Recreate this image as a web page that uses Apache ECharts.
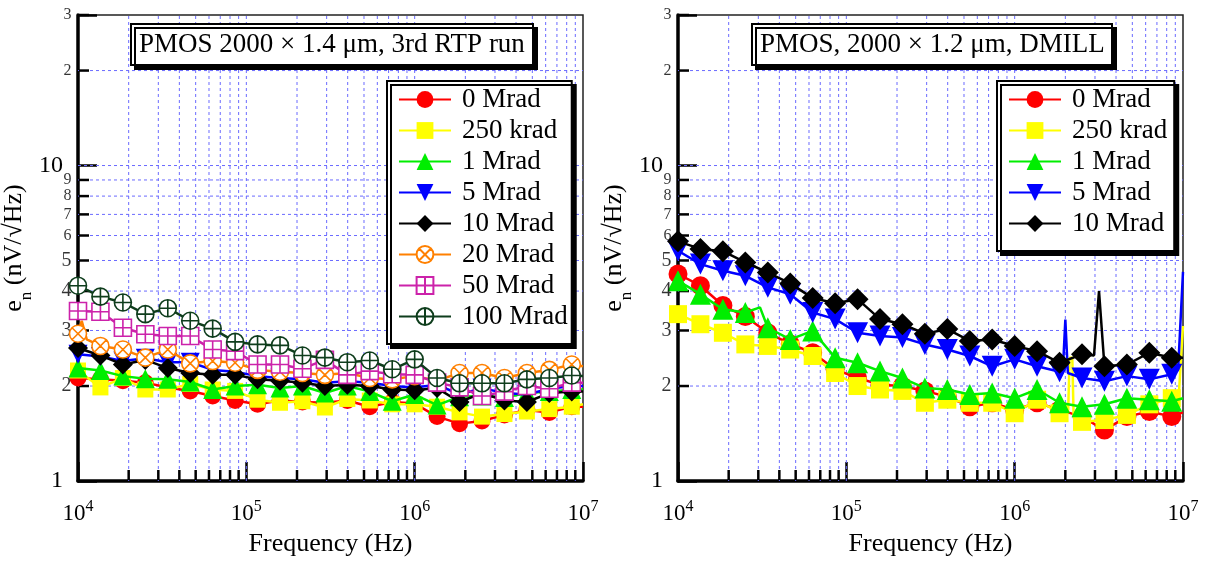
<!DOCTYPE html>
<html><head><meta charset="utf-8">
<script src="https://cdn.jsdelivr.net/npm/echarts@6/dist/echarts.min.js"></script>
<style>html,body{margin:0;padding:0;background:#fff}#c{width:1208px;height:562px}</style>
</head><body><div id="c"></div><script>
// ---------------- DATA ----------------
const FREQ = [10000, 13590, 18480, 25120, 34150, 46420, 63100, 85770, 116600, 158500, 215400, 292900,
  398100, 541200, 735600, 1000000, 1359000, 1848000, 2512000, 3415000, 4642000, 6310000, 8577000];

const NAMES = ['0 Mrad', '250 krad', '1 Mrad', '5 Mrad', '10 Mrad', '20 Mrad', '50 Mrad', '100 Mrad'];

// Left panel: PMOS 2000 x 1.4 um, 3rd RTP run
const L_0M   = [2.12, 2.10, 2.08, 2.05, 1.98, 1.93, 1.86, 1.80, 1.75, 1.80, 1.78, 1.77, 1.80, 1.72, 1.78, 1.76, 1.60, 1.52, 1.55, 1.62, 1.68, 1.65, 1.72];
const L_250K = [2.24, 1.98, 2.12, 1.95, 1.95, 2.03, 1.95, 1.93, 1.81, 1.77, 1.79, 1.71, 1.82, 1.80, 1.75, 1.75, 1.72, 1.65, 1.60, 1.63, 1.66, 1.69, 1.72];
const L_1M   = [2.28, 2.24, 2.15, 2.11, 2.10, 2.06, 1.95, 2.00, 2.02, 1.97, 2.00, 1.90, 2.00, 1.92, 1.79, 1.88, 1.74, 1.85, 1.86, 1.84, 1.90, 1.92, 1.95];
const L_5M   = [2.52, 2.48, 2.40, 2.45, 2.38, 2.38, 2.25, 2.22, 2.15, 2.12, 2.10, 2.05, 2.07, 2.05, 2.00, 1.98, 2.02, 1.88, 1.97, 1.90, 1.88, 1.96, 2.00];
const L_10M  = [2.64, 2.50, 2.34, 2.42, 2.28, 2.20, 2.17, 2.17, 2.10, 2.08, 2.05, 2.00, 2.02, 2.00, 1.95, 1.94, 1.97, 1.78, 1.90, 1.80, 1.78, 1.90, 1.92];
const L_20M  = [2.93, 2.68, 2.61, 2.46, 2.61, 2.36, 2.40, 2.37, 2.25, 2.22, 2.20, 2.17, 2.20, 2.12, 2.10, 2.15, 2.08, 2.20, 2.20, 2.12, 2.20, 2.25, 2.34];
const L_50M  = [3.46, 3.44, 3.06, 2.92, 2.88, 2.88, 2.61, 2.58, 2.34, 2.34, 2.27, 2.42, 2.17, 2.23, 2.18, 2.17, 2.05, 1.98, 1.86, 1.92, 2.00, 1.96, 2.05];
const L_100M = [4.16, 3.84, 3.68, 3.38, 3.53, 3.22, 3.04, 2.76, 2.71, 2.69, 2.50, 2.46, 2.38, 2.41, 2.26, 2.43, 2.12, 2.04, 2.04, 2.04, 2.10, 2.12, 2.16];
// line-only points (no marker)
const L_0M_X   = [[10000000, 1.72]];
const L_250K_X = [[10000000, 1.75]];
const L_1M_X   = [[10000000, 1.95]];
const L_5M_X   = [[10000000, 2.00]];
const L_10M_X  = [[10000000, 1.92]];
const L_20M_X  = [[10520, 3.22], [11270, 2.81], [10000000, 2.31]];
const L_50M_X  = [[10000000, 2.05]];
const L_100M_X = [[10000000, 2.15]];

// Right panel: PMOS, 2000 x 1.2 um, DMILL
const R_0M   = [4.53, 4.16, 3.60, 3.32, 2.95, 2.72, 2.55, 2.26, 2.12, 2.02, 2.00, 1.93, 1.85, 1.72, 1.77, 1.68, 1.77, 1.68, 1.60, 1.45, 1.60, 1.66, 1.60];
const R_250K = [3.38, 3.14, 2.95, 2.71, 2.68, 2.61, 2.49, 2.20, 2.00, 1.95, 1.93, 1.77, 1.81, 1.77, 1.77, 1.64, 1.81, 1.64, 1.54, 1.56, 1.62, 1.75, 1.83];
const R_1M   = [4.31, 3.91, 3.50, 3.42, 3.06, 2.81, 2.99, 2.46, 2.37, 2.23, 2.12, 1.97, 1.95, 1.88, 1.90, 1.83, 1.95, 1.77, 1.72, 1.75, 1.83, 1.81, 1.79];
const R_5M   = [5.37, 4.87, 4.64, 4.47, 4.11, 3.91, 3.42, 3.26, 2.95, 2.88, 2.85, 2.71, 2.61, 2.49, 2.31, 2.43, 2.31, 2.22, 2.12, 2.07, 2.15, 2.10, 2.18];
const R_10M  = [5.75, 5.44, 5.35, 4.93, 4.58, 4.23, 3.80, 3.66, 3.77, 3.26, 3.14, 2.93, 3.03, 2.78, 2.81, 2.68, 2.58, 2.37, 2.52, 2.31, 2.34, 2.55, 2.46];
const R_0M_X   = [[10000000, 1.65]];
const R_250K_X = [[2080000, 1.68], [2120000, 2.46], [2200000, 2.46], [2240000, 1.60], [9400000, 1.80], [10000000, 3.10]];
const R_1M_X   = [[30700, 3.55], [10000000, 1.83]];
const R_5M_X   = [[1930000, 2.20], [2000000, 3.25], [2070000, 2.20], [9350000, 2.25], [10000000, 4.60]];
const R_10M_X  = [[2960000, 2.50], [3170000, 4.00], [10000000, 2.46]];

const X_GRID = [20000, 30000, 40000, 50000, 60000, 70000, 80000, 90000, 100000,
  200000, 300000, 400000, 500000, 600000, 700000, 800000, 900000, 1000000,
  2000000, 3000000, 4000000, 5000000, 6000000, 7000000, 8000000, 9000000];
const X_MAJOR = [100000, 1000000];
const Y_GRID = [2, 3, 4, 5, 6, 7, 8, 9, 10, 20];
const Y_MINOR_LABELS = [[2, '2'], [3, '3'], [4, '4'], [5, '5'], [6, '6'], [7, '7'], [8, '8'], [9, '9'], [20, '2'], [30, '3']];
const X_MIN = 10000, X_MAX = 10000000, Y_MIN = 1, Y_MAX = 30;

const TITLES = ['PMOS 2000 \u00d7 1.4 \u03bcm, 3rd RTP run', 'PMOS, 2000 \u00d7 1.2 \u03bcm, DMILL'];

// ---------------- STYLE ----------------
const FONT = 'Liberation Serif';
const CIRCLE_X = 'path://M10,0A10,10,0,1,1,-10,0A10,10,0,1,1,10,0ZM-7.07,-7.07L7.07,7.07M7.07,-7.07L-7.07,7.07';
const CIRCLE_P = 'path://M10,0A10,10,0,1,1,-10,0A10,10,0,1,1,10,0ZM-10,0L10,0M0,-10L0,10';
const SQUARE_P = 'path://M-10,-10L10,-10L10,10L-10,10ZM-10,0L10,0M0,-10L0,10';
const TRI_DOWN = 'path://M-10,-8.66L10,-8.66L0,8.66Z';
const STY = {
  '0 Mrad':   {c: '#ff0000', s: 'circle', z: 17},
  '250 krad': {c: '#ffff00', s: 'rect', z: 16},
  '1 Mrad':   {c: '#00ee00', s: 'triangle', z: 19},
  '5 Mrad':   {c: '#0000ff', s: TRI_DOWN, z: 19},
  '10 Mrad':  {c: '#000000', s: 'diamond', z: 20},
  '20 Mrad':  {c: '#ff8000', s: CIRCLE_X, z: 17, h: true},
  '50 Mrad':  {c: '#cc22aa', s: SQUARE_P, z: 17, h: true},
  '100 Mrad': {c: '#0e3d1c', s: CIRCLE_P, z: 17, h: true}
};

function lineSeries(idx, name, vals, extra, order) {
  const st = STY[name];
  const pts = FREQ.map((f, i) => ({value: [f, vals[i]]}));
  extra.forEach(p => pts.push({value: p, symbol: 'none'}));
  pts.sort((a, b) => a.value[0] - b.value[0]);
  return {
    type: 'line', name, xAxisIndex: idx, yAxisIndex: idx, data: pts,
    symbol: st.s, symbolSize: st.z + (idx === 1 ? 2 : 0),
    lineStyle: {color: st.c, width: 2.5},
    itemStyle: st.h ? {color: '#fff', borderColor: st.c, borderWidth: 1.6} : {color: st.c, borderWidth: 0},
    emphasis: {disabled: true}, z: 3 + order, silent: true
  };
}

function gridSeries(idx) {
  return [{
    type: 'custom', xAxisIndex: idx, yAxisIndex: idx, z: 1, silent: true,
    data: X_GRID.map(v => [v, Y_MIN]),
    renderItem: (p, api) => {
      const v = api.value(0);
      const b = api.coord([v, Y_MIN]), t = api.coord([v, Y_MAX]);
      const ch = [{type: 'line', shape: {x1: b[0], y1: b[1], x2: t[0], y2: t[1]},
        style: {stroke: '#6b6bff', lineWidth: 1, lineDash: [3, 3]}}];
      if (X_MAJOR.indexOf(v) < 0) ch.push({type: 'line', shape: {x1: b[0], y1: b[1] - 1, x2: b[0], y2: b[1] - 11},
        style: {stroke: '#000', lineWidth: 2.5}});
      return {type: 'group', children: ch};
    }
  }, {
    type: 'custom', xAxisIndex: idx, yAxisIndex: idx, z: 1, silent: true,
    data: Y_GRID.map(v => [X_MIN, v]),
    renderItem: (p, api) => {
      const v = api.value(1);
      const l = api.coord([X_MIN, v]), r = api.coord([X_MAX, v]);
      const ch = [{type: 'line', shape: {x1: l[0], y1: l[1], x2: r[0], y2: r[1]},
        style: {stroke: '#6b6bff', lineWidth: 1, lineDash: [3, 3]}}];
      if (v !== 10) ch.push({type: 'line', shape: {x1: l[0] + 1, y1: l[1], x2: l[0] + 11, y2: l[1]},
        style: {stroke: '#000', lineWidth: 2.5}});
      return {type: 'group', children: ch};
    }
  }, {
    // minor tick labels of the log y axis, placed through the axis scale
    type: 'scatter', xAxisIndex: idx, yAxisIndex: idx, z: 5, silent: true, clip: false,
    symbolSize: 1, itemStyle: {color: 'rgba(0,0,0,0)'},
    data: Y_MINOR_LABELS.map(d => ({
      value: [X_MIN, d[0]],
      label: {show: true, position: 'left', distance: 6, formatter: d[1],
        fontFamily: FONT, color: '#000', fontSize: (d[0] >= 2 && d[0] <= 5) ? 20 : 16}
    }))
  }, {
    type: 'custom', xAxisIndex: idx, yAxisIndex: idx, z: 1, silent: true,
    data: [[X_MIN, Y_MAX]],
    renderItem: (p, api) => {
      const l = api.coord([X_MIN, Y_MAX]);
      return {type: 'line', shape: {x1: l[0] + 1, y1: l[1], x2: l[0] + 11, y2: l[1]}, style: {stroke: '#000', lineWidth: 2.5}};
    }
  }];
}

const isPow10 = v => Math.abs(Math.log10(v) - Math.round(Math.log10(v))) < 1e-6;

function xAxis(idx) {
  return {
    type: 'log', logBase: 10, min: X_MIN, max: X_MAX, gridIndex: idx,
    axisLine: {show: true, onZero: false, lineStyle: {color: '#000', width: 3.5}},
    axisTick: {show: true, inside: true, length: 19, lineStyle: {color: '#000', width: 2.5}},
    axisLabel: {margin: 18, showMinLabel: true, showMaxLabel: true,
      formatter: v => '{b|10}{s|' + Math.round(Math.log10(v)) + '}',
      rich: {b: {fontSize: 23, fontFamily: FONT, color: '#000', lineHeight: 26, verticalAlign: 'bottom'},
             s: {fontSize: 16, fontFamily: FONT, color: '#000', lineHeight: 16, verticalAlign: 'top'}}},
    splitLine: {show: false},
    name: 'Frequency (Hz)', nameLocation: 'middle', nameGap: 50,
    nameTextStyle: {fontFamily: FONT, fontSize: 26, color: '#000'}
  };
}
function yAxis(idx) {
  return {
    type: 'log', logBase: 10, min: Y_MIN, max: Y_MAX, gridIndex: idx,
    axisLine: {show: true, onZero: false, lineStyle: {color: '#000', width: 3.5}},
    axisTick: {show: true, inside: true, length: 19, lineStyle: {color: '#000', width: 2.5}},
    axisLabel: {margin: 15, showMinLabel: true, showMaxLabel: true, fontFamily: FONT, fontSize: 24, color: '#000',
      formatter: v => (isPow10(v) ? String(Math.round(v)) : '')},
    splitLine: {show: false},
    name: 'e{sub|n} (nV/\u221aHz)', nameLocation: 'middle', nameGap: 40,
    nameTextStyle: {fontFamily: FONT, fontSize: 26, color: '#000',
      rich: {sub: {fontFamily: FONT, fontSize: 17, color: '#000', verticalAlign: 'bottom', lineHeight: 26, padding: [0, 0, -8, 0]}}}
  };
}
function legend(idx, names, left, top, pad) {
  return {
    orient: 'vertical', left, top, data: names, padding: pad,
    itemWidth: 52, itemHeight: 21, itemGap: 4, selectedMode: false,
    backgroundColor: '#fff', borderColor: '#000', borderWidth: 2,
    shadowColor: '#000', shadowBlur: 0, shadowOffsetX: 4, shadowOffsetY: 4,
    textStyle: {fontFamily: FONT, fontSize: 27, color: '#000', padding: [0, 0, 0, 6]}, z: 10
  };
}
function title(text, left) {
  return {
    text, left, top: 24, padding: [7, 8, 7, 8],
    backgroundColor: '#fff', borderColor: '#000', borderWidth: 2,
    shadowColor: '#000', shadowBlur: 0, shadowOffsetX: 4, shadowOffsetY: 4,
    textStyle: {fontFamily: FONT, fontSize: 27, fontWeight: 'normal', color: '#000'}, z: 10
  };
}

const series = [].concat(
  gridSeries(0), gridSeries(1),
  [
    lineSeries(0, '0 Mrad', L_0M, L_0M_X, 0),
    lineSeries(0, '250 krad', L_250K, L_250K_X, 1),
    lineSeries(0, '1 Mrad', L_1M, L_1M_X, 2),
    lineSeries(0, '5 Mrad', L_5M, L_5M_X, 3),
    lineSeries(0, '10 Mrad', L_10M, L_10M_X, 4),
    lineSeries(0, '20 Mrad', L_20M, L_20M_X, 5),
    lineSeries(0, '50 Mrad', L_50M, L_50M_X, 6),
    lineSeries(0, '100 Mrad', L_100M, L_100M_X, 7),
    lineSeries(1, '0 Mrad', R_0M, R_0M_X, 0),
    lineSeries(1, '250 krad', R_250K, R_250K_X, 1),
    lineSeries(1, '1 Mrad', R_1M, R_1M_X, 2),
    lineSeries(1, '5 Mrad', R_5M, R_5M_X, 3),
    lineSeries(1, '10 Mrad', R_10M, R_10M_X, 4)
  ]
);

const chart = echarts.init(document.getElementById('c'), null, {renderer: 'canvas'});
chart.setOption({
  animation: false,
  backgroundColor: '#fff',
  title: [title(TITLES[0], 131), title(TITLES[1], 752)],
  legend: [legend(0, NAMES, 387, 81, [5, 4, 14, 11]), legend(1, NAMES.slice(0, 5), 997, 81, [5, 7, 14, 11])],
  grid: [
    {left: 78, top: 15, width: 505, height: 466, show: true, borderColor: '#222', borderWidth: 1.5, backgroundColor: 'transparent'},
    {left: 678, top: 15, width: 505, height: 466, show: true, borderColor: '#222', borderWidth: 1.5, backgroundColor: 'transparent'}
  ],
  xAxis: [xAxis(0), xAxis(1)],
  yAxis: [yAxis(0), yAxis(1)],
  series
});
</script></body></html>
